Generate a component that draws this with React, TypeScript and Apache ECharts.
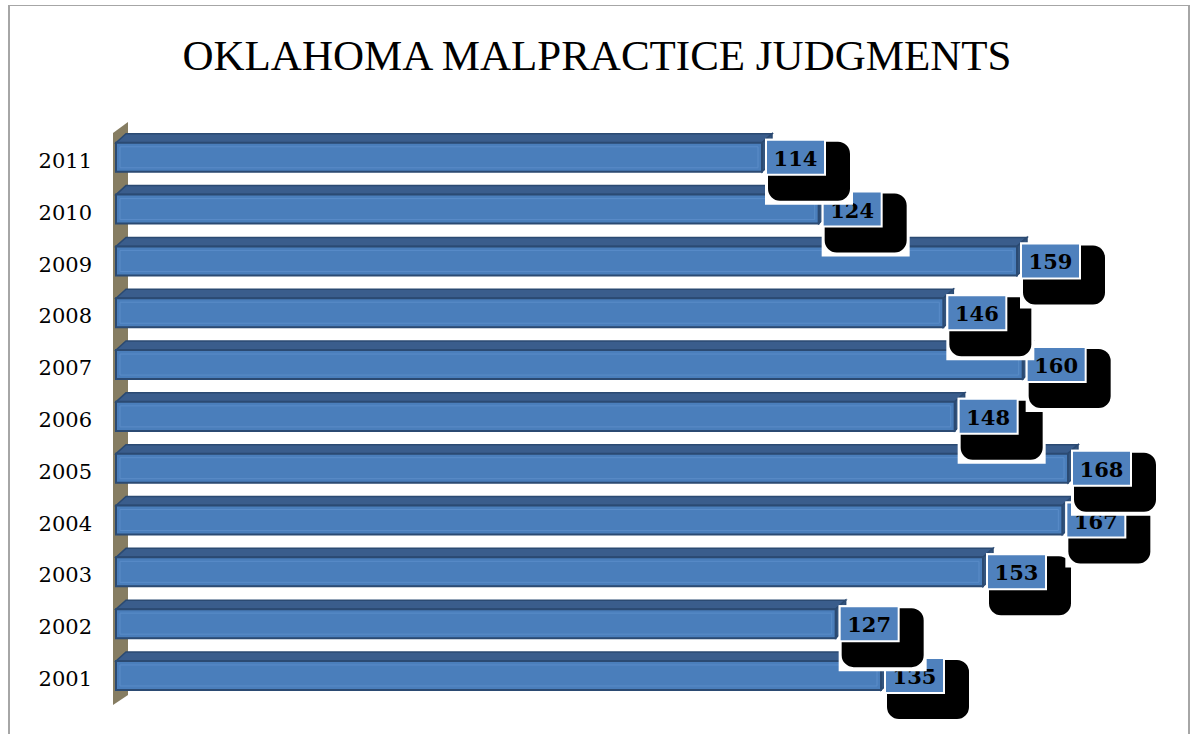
import React, { useEffect, useRef } from "react";
import * as echarts from "echarts";

const titleText = "OKLAHOMA MALPRACTICE JUDGMENTS";
const years = ["2001", "2002", "2003", "2004", "2005", "2006", "2007", "2008", "2009", "2010", "2011"];
const judgments = [135, 127, 153, 167, 168, 148, 160, 146, 159, 124, 114];

const FRONT = "#4a7ebb";
const EDGE = "#2b4a72";
const TOP = "#3a5d8c";
const SIDE = "#33557f";
const WALL = "#867d62";

export default function App() {
  const ref = useRef<HTMLDivElement>(null);
  useEffect(() => {
    if (!ref.current) return;
    const chart = echarts.init(ref.current, null, { renderer: "svg" });
    const option: any = {
      animation: false,
      backgroundColor: "#ffffff",
      title: {
        text: titleText,
        left: "center",
        top: 29,
        textStyle: {
          fontFamily: "Liberation Serif",
          fontWeight: "normal",
          fontSize: 43,
          color: "#000",
        },
      },
      graphic: [
        { type: "line", shape: { x1: 9, y1: 5.5, x2: 1189, y2: 5.5 }, style: { stroke: "#a6a6a6", lineWidth: 1 } },
        { type: "line", shape: { x1: 9, y1: 5, x2: 9, y2: 734 }, style: { stroke: "#a6a6a6", lineWidth: 2 } },
        { type: "line", shape: { x1: 1189, y1: 5, x2: 1189, y2: 734 }, style: { stroke: "#a6a6a6", lineWidth: 2 } },
      ],
      grid: { left: 116, right: 58, top: 135, bottom: 29 },
      xAxis: {
        type: "value",
        min: 0,
        max: 180,
        show: false,
        splitLine: { show: false },
      },
      yAxis: {
        type: "category",
        data: years,
        axisLine: { show: false },
        axisTick: { show: false },
        splitLine: { show: false },
        axisLabel: {
          margin: 24,
          fontFamily: "DejaVu Serif",
          fontSize: 21,
          color: "#000",
        },
      },
      series: [
        {
          type: "custom",
          data: judgments.map((v, i) => [v, i]),
          encode: { x: 0, y: 1 },
          renderItem: (params: any, api: any) => {
            const val = api.value(0);
            const idx = api.value(1);
            const start = api.coord([0, idx]);
            const end = api.coord([val, idx]);
            const band = api.size([0, 1])[1];
            const cy = end[1];
            const ft = cy - band * 0.35;
            const fb = cy + band * 0.21;
            const dx = 10;
            const dy = 9;
            const x0 = start[0];
            const x1 = end[0];
            const children: any[] = [];
            if (params.dataIndex === 0) {
              const cs = params.coordSys;
              const bottom = cs.y + cs.height;
              children.push({
                type: "polygon",
                shape: {
                  points: [
                    [cs.x - 3, cs.y - 2],
                    [cs.x + 12, cs.y - 13],
                    [cs.x + 12, bottom - 10],
                    [cs.x - 3, bottom],
                  ],
                },
                style: { fill: WALL },
              });
            }
            children.push({
              type: "polygon",
              shape: { points: [[x0, ft], [x0 + dx, ft - dy], [x1 + dx, ft - dy], [x1, ft]] },
              style: { fill: TOP, stroke: EDGE, lineWidth: 1.5 },
            });
            children.push({
              type: "polygon",
              shape: { points: [[x1, ft], [x1 + dx, ft - dy], [x1 + dx, fb - dy], [x1, fb]] },
              style: { fill: SIDE, stroke: EDGE, lineWidth: 1.5 },
            });
            children.push({
              type: "rect",
              shape: { x: x0, y: ft, width: x1 - x0, height: fb - ft },
              style: { fill: FRONT, stroke: EDGE, lineWidth: 2 },
            });
            children.push({
              type: "rect",
              shape: { x: x0 + 4, y: ft + 4, width: x1 - x0 - 8, height: fb - ft - 8 },
              style: { fill: "none", stroke: "#5a8cc8", lineWidth: 1 },
            });
            const bx = x1 + 4;
            const by = ft - 3;
            const bw = 59;
            const bh = 35;
            children.push({
              type: "rect",
              shape: { x: bx - 1, y: by - 1, width: 88, height: 66 },
              style: { fill: "#ffffff" },
            });
            children.push({
              type: "rect",
              shape: { x: bx + 2, y: by + 2, width: 82, height: 59, r: 12 },
              style: { fill: "#000000" },
            });
            children.push({
              type: "rect",
              shape: { x: bx, y: by, width: bw, height: bh },
              style: { fill: "#4f81bd", stroke: "#ffffff", lineWidth: 2 },
            });
            children.push({
              type: "text",
              style: {
                text: String(val),
                x: bx + bw / 2,
                y: by + bh / 2 + 1,
                align: "center",
                verticalAlign: "middle",
                fontFamily: "DejaVu Serif",
                fontWeight: "bold",
                fontSize: 21,
                fill: "#000",
              },
            });
            return { type: "group", children };
          },
        },
      ],
    };
    chart.setOption(option);
    return () => chart.dispose();
  }, []);
  return (
    <div
      ref={ref}
      style={{ position: "absolute", left: 0, top: 0, width: 1194, height: 734 }}
    />
  );
}
